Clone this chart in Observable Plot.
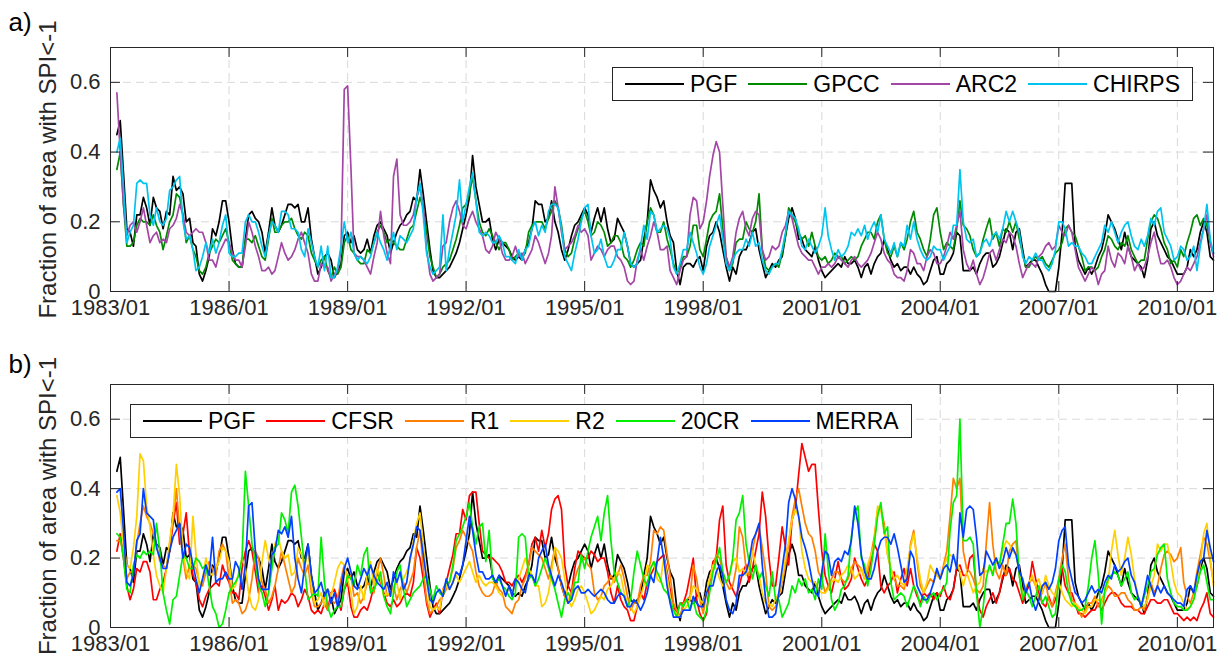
<!DOCTYPE html>
<html><head><meta charset="utf-8">
<script src="https://cdn.jsdelivr.net/npm/d3@7"></script>
<script src="https://cdn.jsdelivr.net/npm/@observablehq/plot@0.6"></script>
<style>
body{margin:0;background:#fff;}
#fig{position:relative;width:1225px;height:660px;font-family:"Liberation Sans",Arial,Helvetica,sans-serif;background:#fff;overflow:hidden;}
.panel{position:absolute;left:0;}
.legend{position:absolute;background:#fff;border:1px solid #262626;box-sizing:border-box;display:flex;align-items:center;font-size:23px;color:#000;white-space:nowrap;padding-left:12px;}
.legend .it{display:flex;align-items:center;margin-right:11px;}
.legend .ln{display:inline-block;width:59px;height:0;border-top:2px solid;margin-right:6px;}
</style></head><body>
<div id="fig"></div>
<script>
// Monthly fraction of area with SPI<-1, in hundredths, first value = 1983/03, last = 2010/12
const PGF = [
45,49,34,18,17,13,22,22,27,24,
19,27,24,23,18,23,22,33,29,30,28,20,
21,14,13,5,3,6,10,18,16,20,26,26,
20,12,8,7,7,15,22,23,21,20,17,11,
17,24,19,17,19,22,25,25,24,25,20,20,
24,15,10,5,7,10,11,9,4,6,8,16,
17,14,16,12,11,12,15,11,16,19,20,18,
16,11,14,17,19,20,22,23,27,26,35,28,
20,12,6,4,4,5,6,7,9,11,14,18,
22,27,39,30,25,20,20,21,15,12,15,14,
13,12,10,9,10,9,12,14,18,26,25,25,
20,21,26,20,17,12,9,12,16,19,20,22,
24,22,17,21,24,20,24,18,14,15,21,19,
17,13,8,7,8,9,15,20,32,29,27,24,
26,20,16,14,6,2,7,8,8,7,9,10,
6,13,16,17,20,17,12,7,3,7,5,10,
12,12,14,17,18,12,8,4,6,8,7,9,
10,16,21,24,21,15,15,12,11,10,13,9,
6,4,5,6,7,8,7,10,8,8,9,7,
4,7,8,5,8,10,11,15,12,9,7,8,
6,7,7,5,7,5,4,2,3,6,9,10,
5,5,8,9,11,17,16,6,6,6,7,5,
8,10,11,11,7,8,10,14,18,17,12,17,
18,12,7,8,9,9,7,5,2,0,0,0,
7,17,31,31,31,13,9,7,5,7,5,7,
10,12,16,22,20,18,15,12,17,13,10,9,
8,7,4,9,18,20,16,14,12,10,9,7,
5,5,5,7,12,10,12,17,20,17,10,9];
const GPCC = [
35,40,25,13,13,14,19,21,20,20,
19,22,19,17,12,16,20,22,28,27,22,14,
16,12,10,6,5,7,11,13,15,14,16,18,
14,9,8,7,7,15,15,14,16,13,10,9,
15,21,17,17,19,20,20,21,18,16,15,17,
16,11,9,7,9,10,6,4,7,5,7,14,
16,12,11,9,8,8,12,11,14,17,19,17,
14,15,14,13,12,12,15,18,19,23,27,24,
17,10,7,4,5,7,8,9,12,15,19,24,
25,28,33,26,20,17,16,18,16,14,12,14,
14,12,9,10,11,10,11,17,19,20,20,20,
18,21,23,26,24,19,12,10,11,15,18,21,
23,20,16,17,20,19,17,13,14,16,16,14,
10,9,7,9,12,14,13,20,24,22,17,17,
20,15,12,8,5,7,10,10,13,19,19,12,
10,15,20,22,23,28,18,10,6,8,14,15,
15,20,18,17,20,28,12,7,6,7,8,7,
11,16,24,22,20,17,15,16,13,17,13,10,
9,10,8,9,11,10,10,8,9,10,9,10,
13,15,17,17,15,20,22,15,11,10,13,10,
14,12,15,20,23,17,15,12,10,15,22,24,
17,12,14,13,12,18,26,19,18,16,12,10,
11,15,18,21,15,17,13,18,17,20,17,20,
15,11,7,7,9,10,9,10,8,7,9,11,
12,14,18,19,17,16,13,10,6,7,7,6,
7,10,12,16,15,13,12,14,13,16,12,10,
8,9,9,15,20,22,21,18,14,12,8,9,
7,12,10,14,17,21,22,19,21,19,14,11];
const ARC2 = [
57,40,25,16,19,20,17,20,24,19,
14,16,17,14,15,14,18,19,21,25,22,17,
16,17,18,17,17,14,9,9,7,11,13,15,
14,11,9,9,7,13,20,17,13,10,6,6,
7,5,6,10,14,11,9,10,12,15,17,14,
11,5,3,3,8,7,7,3,5,6,12,58,
59,35,11,10,10,9,7,5,10,14,23,16,
11,8,33,38,22,19,19,20,22,27,30,25,
12,5,3,4,5,13,14,20,24,26,23,19,
18,21,23,20,18,16,12,11,13,17,15,11,
9,9,10,13,10,11,8,10,12,16,14,11,
8,11,16,30,24,17,12,13,14,16,19,17,
18,16,9,11,13,12,10,12,13,13,10,9,
7,3,2,3,9,12,9,13,16,20,17,12,
12,13,6,4,2,6,9,10,22,27,26,18,
20,26,33,39,43,40,25,10,7,10,17,21,
23,18,16,21,23,22,12,9,10,13,12,13,
17,19,23,21,17,13,11,10,9,9,7,5,
7,7,8,7,8,10,9,8,7,9,10,8,
7,8,9,11,14,17,15,11,9,8,5,4,
4,3,6,12,11,8,8,6,10,12,11,8,
8,10,13,17,15,19,23,12,8,6,9,5,
2,4,7,11,12,9,12,15,14,17,16,13,
8,4,6,8,8,7,10,11,13,14,12,13,
19,17,16,19,17,12,7,5,3,5,7,6,
2,5,6,13,9,7,11,10,8,13,10,6,
8,6,7,10,14,17,12,8,8,9,7,4,
2,3,5,7,6,8,10,14,18,22,14,10];
const CHIRPS = [
40,44,30,14,17,19,31,32,31,31,
22,19,24,20,19,21,29,30,32,33,20,15,
16,12,6,7,10,14,11,15,11,14,19,22,
11,10,10,11,11,20,22,20,20,17,13,10,
16,20,19,17,23,23,22,18,18,17,12,10,
18,14,10,7,13,6,13,4,4,7,13,20,
14,17,11,9,10,9,8,10,14,17,14,12,
9,13,17,12,16,15,14,16,18,27,31,22,
11,7,5,6,7,22,6,12,17,22,32,20,
25,30,34,26,17,16,17,16,14,14,16,14,
10,10,9,8,12,9,12,13,18,20,16,19,
17,23,25,25,24,18,10,8,6,11,15,20,
24,25,16,11,12,15,10,7,7,9,12,12,
17,13,8,7,8,13,19,15,23,22,17,18,
19,18,15,7,5,8,12,12,17,14,11,7,
5,8,13,16,19,22,15,8,6,9,11,12,
12,15,13,17,13,14,9,6,5,7,8,8,
12,17,23,22,21,18,13,12,15,13,11,13,
16,24,16,12,9,12,10,11,13,17,16,18,
16,19,15,18,20,17,22,15,13,11,14,10,
14,13,19,15,20,15,12,10,9,10,13,12,
12,9,11,13,19,19,35,20,15,14,15,10,
11,14,15,13,16,17,15,18,23,20,23,20,
17,10,8,10,9,11,9,9,7,6,8,12,
20,20,18,13,14,13,13,11,10,8,8,10,
12,14,19,17,20,17,14,17,19,20,16,13,
12,15,13,16,21,19,23,24,17,15,13,9,
10,13,12,9,10,13,6,13,18,25,15,11];
const CFSR = [
22,27,20,12,8,11,17,16,19,19,
16,8,8,11,13,17,22,30,36,24,27,33,
21,15,13,8,6,9,11,12,13,12,18,15,
13,10,10,8,17,22,25,22,16,10,12,9,
5,8,12,5,8,7,8,10,9,6,8,11,
9,5,4,5,4,7,5,10,11,8,5,11,
13,6,3,3,5,6,5,8,12,16,13,10,
7,6,8,6,7,9,10,9,13,23,20,14,
7,3,5,7,4,11,13,17,21,27,27,34,
31,38,39,39,30,22,21,20,20,19,18,16,
13,13,12,14,15,13,15,18,24,26,22,28,
23,27,34,37,38,34,18,12,10,17,22,21,
20,20,22,21,19,20,20,16,10,7,12,8,
6,5,2,2,6,10,8,13,15,17,19,20,
21,16,11,6,4,7,7,10,15,20,8,4,
2,4,13,19,20,31,35,18,13,11,9,12,
16,18,13,17,22,27,39,32,20,12,12,20,
29,23,18,31,34,44,53,49,45,47,47,34,
22,15,12,10,14,19,14,11,12,14,20,17,
14,12,14,19,24,22,12,10,12,13,16,10,
14,17,12,17,12,9,7,10,9,10,8,10,
9,12,9,8,11,17,18,15,15,20,21,10,
5,3,6,8,10,7,10,15,15,17,14,13,
10,7,10,12,19,14,10,7,6,9,6,8,
13,17,12,10,10,7,4,4,3,4,5,5,
7,5,7,9,10,10,9,7,6,6,6,5,
5,4,4,6,8,8,7,7,8,8,6,4,
4,3,2,3,2,3,2,5,7,10,4,3];
const R1 = [
25,25,22,14,16,16,24,30,35,32,
30,27,24,19,18,17,24,31,40,28,20,14,
18,18,17,13,12,16,19,17,15,22,24,22,
14,7,8,7,4,5,8,14,22,20,13,11,
7,9,12,17,22,18,14,10,12,20,17,15,
18,10,6,6,7,9,5,8,7,8,14,18,
14,15,9,10,7,9,13,12,10,16,20,15,
9,10,12,8,11,13,10,13,16,23,28,17,
8,4,5,6,8,9,11,13,17,23,25,28,
26,24,22,16,12,10,9,9,10,13,11,10,
6,5,4,7,8,12,14,18,23,22,21,20,
17,14,18,23,17,12,9,7,10,14,17,19,
20,18,17,10,8,9,12,13,15,13,15,18,
14,9,5,7,7,12,15,15,19,28,27,29,
28,21,15,7,5,3,7,8,9,18,14,8,
4,10,14,17,21,20,16,13,11,12,17,29,
26,17,15,22,27,29,23,16,6,5,6,9,
13,18,24,32,37,40,35,30,27,26,22,16,
14,10,12,14,16,16,14,13,14,17,19,18,
17,14,16,21,26,34,34,30,21,17,14,12,
12,11,15,24,28,19,12,10,12,14,13,16,
14,18,22,32,43,40,43,22,17,16,14,11,
10,12,24,36,24,16,14,18,15,22,24,25,
15,9,11,13,14,12,8,10,13,8,6,10,
14,20,24,14,8,7,5,3,5,7,7,9,
6,8,10,12,11,9,9,10,10,8,7,5,
5,6,5,9,13,10,12,17,21,22,21,19,
20,23,13,9,7,10,16,21,26,24,19,13];
const R2 = [
38,33,24,18,17,23,32,50,48,35,
29,21,15,12,10,17,25,32,47,38,22,16,
14,32,21,12,14,20,16,15,17,19,23,22,
19,11,12,16,20,17,10,6,5,8,19,25,
20,17,24,26,22,20,21,15,16,23,21,17,
23,12,7,8,10,6,11,9,13,17,19,18,
14,10,4,6,12,8,16,19,12,17,14,9,
10,9,12,13,8,14,16,19,25,30,33,24,
14,6,5,6,5,11,12,11,13,15,13,15,
17,19,16,13,15,13,12,13,13,12,10,9,
10,11,10,12,14,17,20,17,15,12,12,6,
7,10,16,23,22,20,14,8,6,8,11,12,
10,7,4,5,7,9,8,11,12,14,16,15,
10,7,6,4,6,9,12,18,17,19,14,13,
20,15,9,5,4,3,5,6,8,12,11,8,
7,10,14,18,17,14,12,13,15,19,20,16,
17,15,18,22,18,15,10,7,7,6,8,10,
14,20,25,31,34,32,22,17,14,13,13,11,
10,10,11,13,14,13,15,16,18,17,14,15,
17,14,18,21,24,35,34,28,21,17,14,15,
13,12,17,23,27,20,14,10,13,18,16,15,
14,17,20,21,20,19,16,12,16,13,10,12,
13,17,16,17,16,19,18,22,25,24,22,21,
16,9,12,13,15,12,14,10,15,12,10,9,
13,10,8,7,6,7,6,5,4,6,6,8,
8,7,10,13,22,28,21,15,20,26,21,14,
9,7,6,8,12,15,24,22,24,24,19,13,
10,9,7,5,6,8,13,18,27,30,20,12];
const CR20 = [
27,26,20,11,10,18,21,20,22,21,
22,21,30,22,10,5,1,8,9,15,21,20,
17,17,20,19,17,18,12,6,4,0,1,5,
10,12,13,15,20,45,35,24,19,12,10,6,
10,17,23,24,33,31,27,39,41,35,26,17,
8,9,10,9,26,13,6,3,5,6,6,11,
15,14,12,18,15,21,23,10,11,13,16,9,
6,4,10,16,18,11,6,8,10,11,12,14,
15,11,8,12,10,9,13,13,18,25,27,29,
32,36,29,24,29,30,19,28,14,13,14,12,
11,9,8,10,26,27,26,14,15,12,14,17,
20,17,14,11,7,3,8,10,8,13,13,21,
17,22,26,29,32,25,33,38,25,16,13,10,
9,6,8,16,22,18,14,12,17,19,16,14,
11,10,8,5,3,7,6,8,5,8,4,3,
2,5,10,16,19,23,16,13,15,20,31,33,
38,24,19,14,18,14,16,12,9,16,8,8,
3,5,7,12,10,14,12,14,10,11,8,14,
11,27,17,8,5,7,11,12,15,26,33,35,
20,18,12,17,24,32,36,27,29,13,8,9,
10,9,6,9,12,10,6,9,7,9,10,8,
10,11,13,28,36,38,60,25,25,26,24,10,
0,6,14,18,15,20,18,24,30,30,37,30,
15,8,11,9,6,9,12,7,9,6,3,4,
14,18,16,10,7,6,5,5,6,12,20,25,
15,1,11,14,15,16,15,12,14,16,10,8,
9,6,9,12,16,17,21,23,24,14,10,7,
6,6,5,5,6,8,12,16,18,13,8,8];
const MERRA = [
39,40,28,13,12,15,25,27,40,33,
32,31,23,20,17,17,22,26,28,30,20,24,
23,18,14,10,14,18,15,26,13,14,14,16,
14,14,19,17,11,18,35,36,22,14,11,11,
11,21,22,28,27,29,26,32,20,14,10,18,
24,15,10,11,13,9,11,7,10,6,12,17,
20,16,12,11,14,17,15,18,15,13,12,11,
13,9,16,13,16,11,13,20,24,29,28,21,
14,8,7,10,11,9,14,11,13,16,15,18,
25,32,28,21,16,16,14,14,15,13,15,12,
9,12,9,14,13,11,10,15,15,13,20,22,
24,18,15,12,15,13,10,7,8,11,12,10,
10,11,10,9,10,11,10,8,7,7,9,10,
9,6,6,8,7,5,7,10,15,13,19,26,
20,12,7,3,3,3,5,5,5,9,7,6,
6,10,12,12,16,18,15,8,5,4,7,15,
15,16,19,25,27,30,18,8,3,3,4,10,
17,24,36,40,37,32,26,23,19,14,10,9,
16,22,21,15,19,20,19,22,21,25,35,30,
21,16,14,14,17,22,25,26,26,24,27,23,
18,13,14,22,20,12,10,8,8,10,13,17,
14,17,18,16,21,17,33,26,34,35,34,26,
15,16,22,20,18,20,17,19,23,20,23,21,
16,14,10,13,8,5,8,12,13,11,13,17,
25,28,29,18,14,10,9,7,8,10,12,10,
11,10,13,15,14,18,16,17,19,20,15,13,
9,6,10,15,12,9,12,10,12,10,9,8,
7,7,6,11,12,10,15,19,20,28,23,19];

const seriesA = ["PGF", "GPCC", "ARC2", "CHIRPS"];
const colorsA = ["#000000", "#008a00", "#a346a6", "#00c4f0"];
const valuesA = [PGF, GPCC, ARC2, CHIRPS];
const seriesB = ["PGF", "CFSR", "R1", "R2", "20CR", "MERRA"];
const colorsB = ["#000000", "#ff0000", "#ff8000", "#ffd000", "#00f000", "#0040ff"];
const valuesB = [PGF, CFSR, R1, R2, CR20, MERRA];
const xTickLabels = ["1983/01","1986/01","1989/01","1992/01","1995/01","1998/01","2001/01","2004/01","2007/01","2010/01"];
const yTickValues = [0, 0.2, 0.4, 0.6];
const yLabel = "Fraction of area with SPI<-1";

const xTicks = xTickLabels.map(s => new Date(Date.UTC(+s.slice(0, 4), +s.slice(5) - 1, 1)));
const X0 = new Date(Date.UTC(1983, 0, 1)), X1 = new Date(Date.UTC(2010, 11, 1));
const FONT = '"Liberation Sans", Arial, Helvetica, sans-serif';

function rowsOf(values) {
  return values.map((v, i) => ({date: new Date(Date.UTC(1983, 2 + i, 1)), value: v / 100}));
}

function panel(names, colors, values, {top, bottom, letter, letterDy}) {
  const W = 1225, H = 330, ml = 110, mr = 12;
  const plotW = W - ml - mr, plotH = H - top - bottom;
  const tickLen = 10;
  const dxMs = (X1 - X0) / plotW * tickLen;
  const dy = 0.7 / plotH * tickLen;
  const inner = yTickValues.filter(v => v > 0);
  const marks = [
    Plot.ruleY(inner, {y: d => d, stroke: "#d9d9d9", strokeDasharray: "8,5", strokeWidth: 1}),
    Plot.ruleX(xTicks.slice(1), {x: d => d, stroke: "#d9d9d9", strokeDasharray: "8,5", strokeWidth: 1}),
    ...values.map((vals, k) => Plot.lineY(rowsOf(vals), {x: "date", y: "value", stroke: colors[k], strokeWidth: 1.7})),
    Plot.frame({stroke: "#262626", strokeWidth: 1}),
    Plot.ruleX(xTicks, {x: d => d, y1: () => 0, y2: () => dy, stroke: "#262626"}),
    Plot.ruleX(xTicks, {x: d => d, y1: () => 0.7 - dy, y2: () => 0.7, stroke: "#262626"}),
    Plot.ruleY(inner, {y: d => d, x1: () => X0, x2: () => new Date(+X0 + dxMs), stroke: "#262626"}),
    Plot.ruleY(inner, {y: d => d, x1: () => new Date(+X1 - dxMs), x2: () => X1, stroke: "#262626"}),
    Plot.text([yLabel], {frameAnchor: "left", dx: -62, rotate: -90, textAnchor: "middle", lineAnchor: "middle", fontSize: 24, fill: "#262626", text: d => d}),
    Plot.text([letter], {frameAnchor: "top-left", dx: -102, dy: letterDy, textAnchor: "start", lineAnchor: "middle", fontSize: 26, fill: "#000", text: d => d})
  ];
  return Plot.plot({
    width: W, height: H,
    marginLeft: ml, marginRight: mr, marginTop: top, marginBottom: bottom,
    style: {fontFamily: FONT, fontSize: "22px", color: "#262626", background: "white", overflow: "visible"},
    x: {type: "utc", domain: [X0, X1], ticks: xTicks, tickFormat: d => d3.utcFormat("%Y/%m")(d), tickSize: 0, tickPadding: 8, label: null},
    y: {domain: [0, 0.7], ticks: yTickValues, tickFormat: d => d === 0 ? "0" : d.toFixed(1), tickSize: 0, tickPadding: 10, label: null},
    marks
  });
}

function legend(names, colors, box) {
  const div = document.createElement("div");
  div.className = "legend";
  Object.assign(div.style, {left: box.left + "px", top: box.top + "px", width: box.width + "px", height: box.height + "px"});
  names.forEach((n, k) => {
    const it = document.createElement("span");
    it.className = "it";
    const ln = document.createElement("span");
    ln.className = "ln";
    ln.style.borderTopColor = colors[k];
    const tx = document.createElement("span");
    tx.textContent = n;
    it.appendChild(ln); it.appendChild(tx);
    div.appendChild(it);
  });
  return div;
}

const fig = document.getElementById("fig");
const a = panel(seriesA, colorsA, valuesA, {top: 47, bottom: 39, letter: "a)", letterDy: -25});
a.classList.add("panel"); a.style.top = "0px";
const b = panel(seriesB, colorsB, valuesB, {top: 54, bottom: 33, letter: "b)", letterDy: -20});
b.classList.add("panel"); b.style.top = "330px";
fig.appendChild(a);
fig.appendChild(b);
fig.appendChild(legend(seriesA, colorsA, {left: 612, top: 67, width: 581, height: 34}));
fig.appendChild(legend(seriesB, colorsB, {left: 130, top: 404, width: 782, height: 34}));
</script>
</body></html>
